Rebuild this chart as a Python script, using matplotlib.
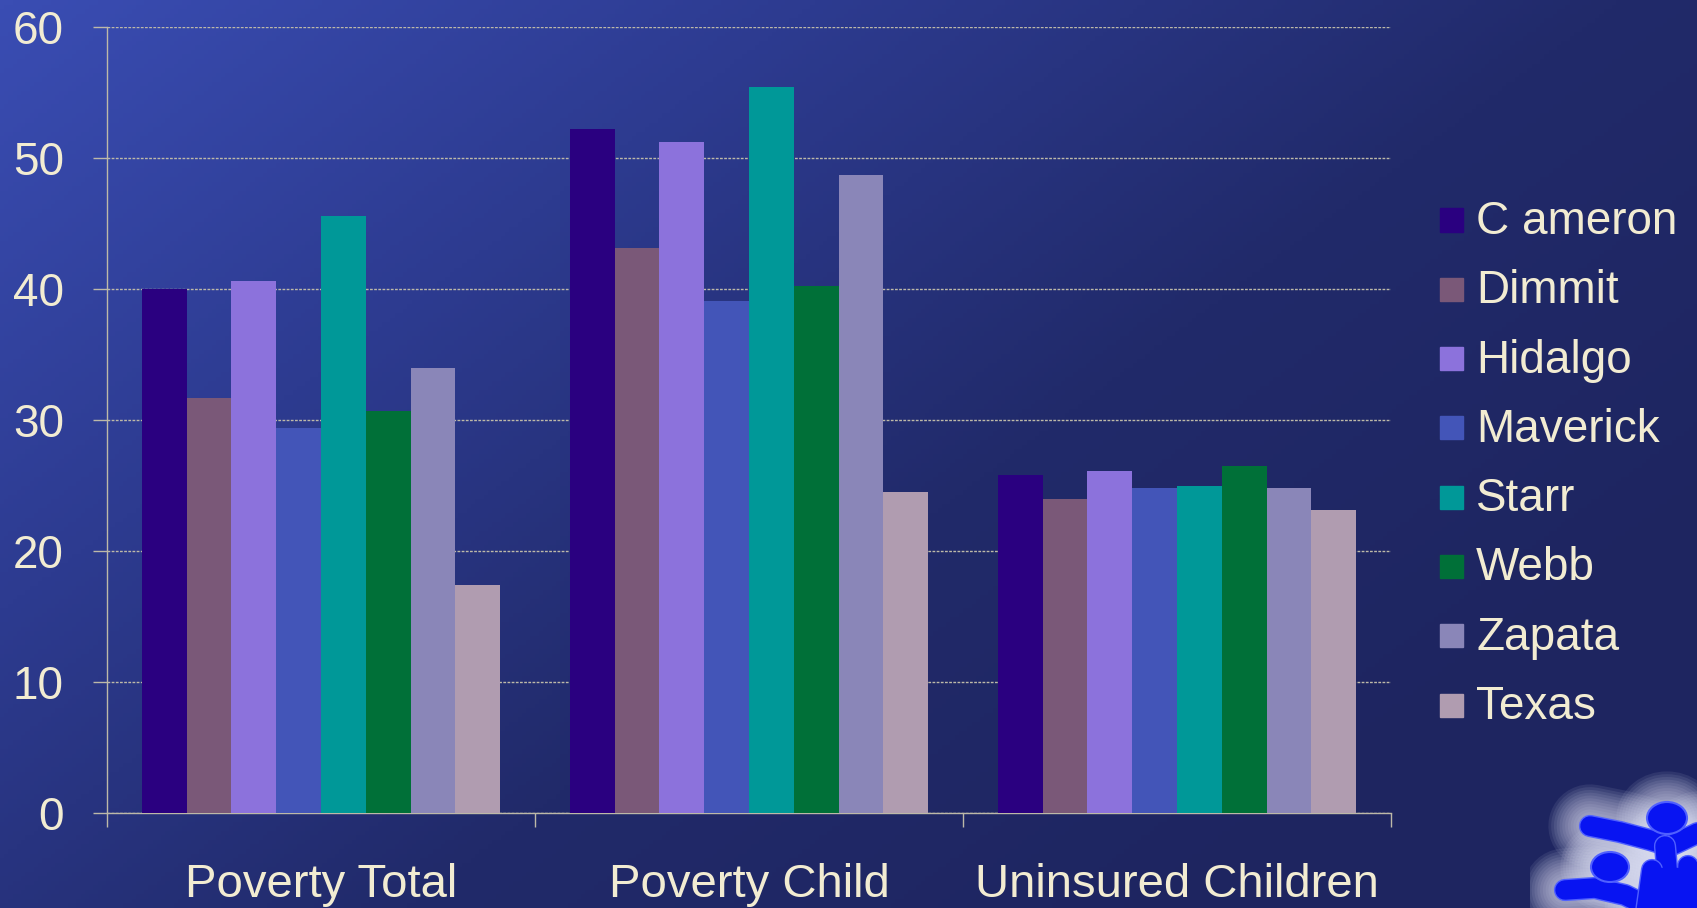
import matplotlib
matplotlib.use('Agg')
import matplotlib.pyplot as plt
import numpy as np
from matplotlib.colors import LinearSegmentedColormap
from matplotlib.patches import Rectangle, Ellipse
import matplotlib.patheffects as pe

plt.rcParams['font.family'] = ['Liberation Sans', 'DejaVu Sans']

groups = ['Poverty Total', 'Poverty Child', 'Uninsured Children']
counties = ['C ameron', 'Dimmit', 'Hidalgo', 'Maverick', 'Starr', 'Webb', 'Zapata', 'Texas']
values = {
    'C ameron': [40.0, 52.2, 25.8],
    'Dimmit':   [31.7, 43.1, 24.0],
    'Hidalgo':  [40.6, 51.2, 26.1],
    'Maverick': [29.4, 39.1, 24.8],
    'Starr':    [45.6, 55.4, 25.0],
    'Webb':     [30.7, 40.2, 26.5],
    'Zapata':   [34.0, 48.7, 24.8],
    'Texas':    [17.4, 24.5, 23.1],
}
colors = ['#2a0080', '#7a5878', '#8c72dc', '#4355b8',
          '#009898', '#007038', '#8a86b8', '#b09cb0']
yticks = [0, 10, 20, 30, 40, 50, 60]

txt = '#f2ecd2'
linec = '#bdb9a8'
W, H = 1697, 908
fig = plt.figure(figsize=(W/100, H/100), dpi=100)

# gradient background
bg = fig.add_axes([0, 0, 1, 1], zorder=-10)
xx, yy = np.meshgrid(np.linspace(0, 1, 400), np.linspace(0, 1, 200))
t = np.clip(0.7*xx + 0.5*yy, 0, 1)
cmap = LinearSegmentedColormap.from_list('bg', ['#3a4db3', '#2d3b90', '#212a6a', '#1e2560'])
bg.imshow(t, cmap=cmap, aspect='auto', extent=[0, 1, 0, 1], origin='upper')
bg.set_axis_off()

ax = fig.add_axes([107/W, 1-813/H, (1391-107)/W, (813-27)/H])
ax.patch.set_alpha(0)

x = np.arange(len(groups))
bw = 0.838/len(counties)
for i, c in enumerate(counties):
    ax.bar(x - 0.419 + bw*(i+0.5), values[c], width=bw, color=colors[i],
           label=c, zorder=3, linewidth=0)

ax.set_xlim(-0.5, 2.5)
ax.set_ylim(0, 60)
ax.set_yticks(yticks)
ax.set_yticklabels([str(v) for v in yticks])
ax.set_xticks([-0.5, 0.5, 1.5, 2.5])
ax.set_xticklabels([])
ax.set_xticks(x, minor=True)
ax.set_xticklabels(groups, minor=True)
ax.tick_params(axis='x', which='minor', length=0, pad=36, labelsize=34, labelcolor=txt)
ax.tick_params(axis='x', which='major', length=10, color=linec, width=1.0)
ax.tick_params(axis='y', length=10, color=linec, width=1.0, labelsize=33,
               labelcolor=txt, pad=21)
ax.grid(axis='y', color=linec, linewidth=1.0, linestyle=(0, (2, 1)), zorder=1)
for s in ['top', 'right']:
    ax.spines[s].set_visible(False)
for s in ['left', 'bottom']:
    ax.spines[s].set_color(linec)
    ax.spines[s].set_linewidth(1.0)

# legend
for i, c in enumerate(counties):
    yc = 220 + 69.3*i
    fig.patches.append(Rectangle((1440/W, 1-(yc+11.5)/H), 23/W, 23/H,
                                 transform=fig.transFigure, color=colors[i]))
    fig.text(1476/W, 1-(yc+2)/H, c, color=txt, fontsize=33, va='center', ha='left')

# logo in the corner: soft glow first, blue shapes on top
lg = fig.add_axes([1530/W, 0, 167/W, 138/H])
lg.set_xlim(1530, 1697)
lg.set_ylim(908, 770)
lg.set_axis_off()
blue = '#0814f2'
limbs = [
    ([1590, 1620, 1650, 1670, 1700], [826, 832, 840, 846, 832]),
    ([1565, 1595, 1625, 1645, 1655], [890, 888, 895, 905, 912]),
    ([1665, 1668, 1672], [846, 880, 912]),
    ([1688, 1692], [866, 912]),
    ([1652, 1646], [870, 912]),
]
heads = [(1667, 818, 40, 32), (1610, 867, 38, 30)]
glow = [pe.Stroke(linewidth=w, foreground='#dfe2f6', alpha=0.09)
        for w in range(60, 14, -4)]
for lx, ly in limbs:
    lg.plot(lx, ly, color='none', lw=14, solid_capstyle='round',
            path_effects=glow, zorder=1)
for cx, cy, w, h in heads:
    lg.add_patch(Ellipse((cx, cy), w, h, facecolor='none', edgecolor='none', zorder=1,
                         path_effects=[pe.Stroke(linewidth=lw, foreground='#dfe2f6',
                                                 alpha=0.09) for lw in range(44, 2, -4)]))
for lx, ly in limbs:
    lg.plot(lx, ly, color=blue, lw=14, solid_capstyle='round', zorder=3,
            path_effects=[pe.Stroke(linewidth=16, foreground='#5060ff'), pe.Normal()])
for cx, cy, w, h in heads:
    lg.add_patch(Ellipse((cx, cy), w, h, facecolor=blue, edgecolor='#5060ff',
                         linewidth=1.5, zorder=4))
lg.add_patch(Rectangle((1655, 868), 42, 40, color=blue, zorder=4))

fig.savefig('out.png', dpi=100)
